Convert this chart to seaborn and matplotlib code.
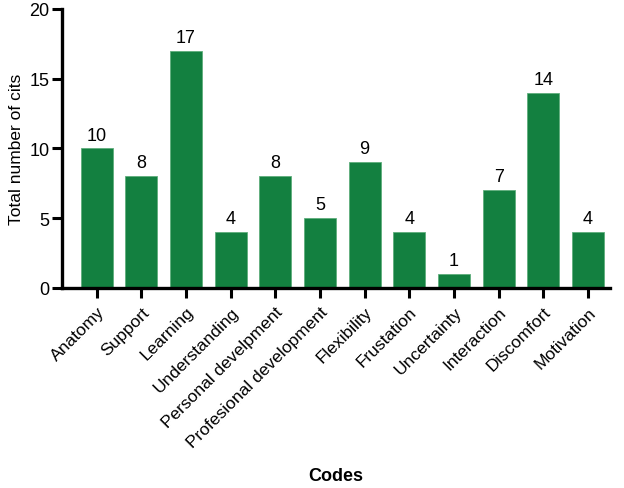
import pandas as pd
import seaborn as sns
import matplotlib.pyplot as plt

codes = ["Anatomy", "Support", "Learning", "Understanding", "Personal develpment",
         "Profesional development", "Flexibility", "Frustation", "Uncertainty",
         "Interaction", "Discomfort", "Motivation"]
counts = [10, 8, 17, 4, 8, 5, 9, 4, 1, 7, 14, 4]

df = pd.DataFrame({"Code": codes, "Count": counts})

sns.set_style("ticks")
plt.rcParams["font.family"] = ["Liberation Sans", "DejaVu Sans"]
plt.rcParams["text.color"] = "black"
plt.rcParams["axes.labelcolor"] = "black"
plt.rcParams["xtick.color"] = "black"
plt.rcParams["ytick.color"] = "black"
plt.rcParams["axes.edgecolor"] = "black"

fig = plt.figure(figsize=(6.24, 4.89), dpi=100)
ax = fig.add_axes([0.099, 0.409, 0.879, 0.571])

sns.barplot(data=df, x="Code", y="Count", color="#138040", width=0.72,
            edgecolor="#5fae7c", linewidth=0.6, saturation=1, ax=ax)

# value labels above bars
for i, v in enumerate(counts):
    ax.text(i, v + 0.35, str(v), ha="center", va="bottom", fontsize=13)

ax.set_ylim(0, 20)
ax.set_xlim(-0.78, 11.5)
ax.set_yticks([0, 5, 10, 15, 20])
ax.set_ylabel("Total number of cits", fontsize=12.5)
ax.set_xlabel("Codes", fontsize=13, fontweight="bold")
ax.xaxis.set_label_coords(0.5, -0.64)
ax.tick_params(axis="both", labelsize=12.5, width=2.2, length=7.5, direction="out")
ax.tick_params(axis="y", labelsize=13, pad=1.5)
ax.tick_params(axis="x", pad=4)
plt.setp(ax.get_xticklabels(), rotation=45, ha="right", rotation_mode="anchor")
sns.despine(ax=ax)
for s in ["left", "bottom"]:
    ax.spines[s].set_linewidth(2.4)

fig.savefig("out.png", dpi=100)
